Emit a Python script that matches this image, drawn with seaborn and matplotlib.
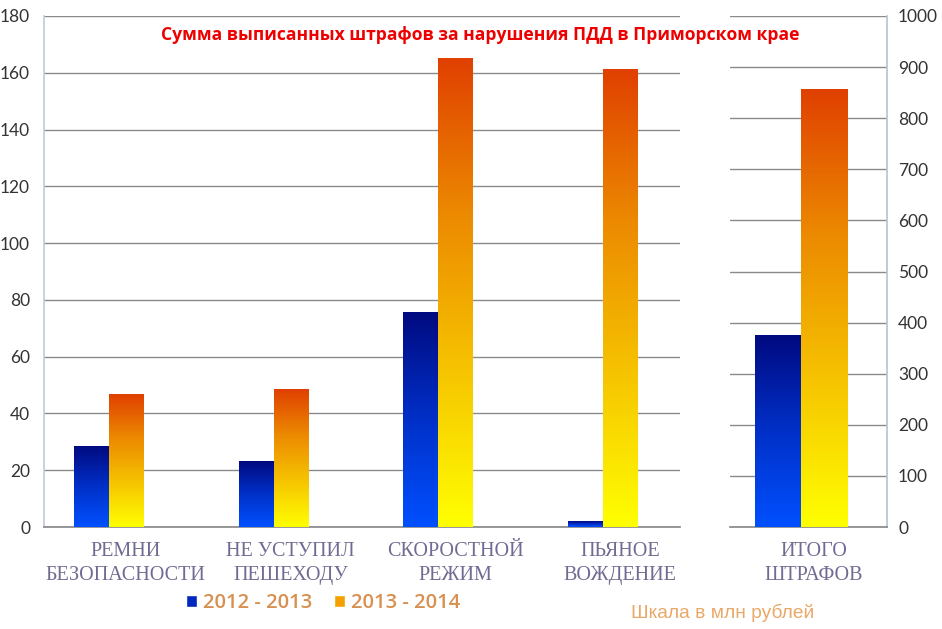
import numpy as np
import pandas as pd
import seaborn as sns
import matplotlib.pyplot as plt
from matplotlib.colors import LinearSegmentedColormap
from matplotlib.patches import Patch

categories = ['РЕМНИ\nБЕЗОПАСНОСТИ', 'НЕ УСТУПИЛ\nПЕШЕХОДУ', 'СКОРОСТНОЙ\nРЕЖИМ', 'ПЬЯНОЕ\nВОЖДЕНИЕ']
periods = ['2012 - 2013', '2013 - 2014']
vals_2012 = [28.2, 23.2, 75.7, 2.1]
vals_2013 = [46.5, 48.6, 165.1, 161.0]
total_label = ['ИТОГО\nШТРАФОВ']
total_2012 = [374]
total_2013 = [857]

left_ticks = list(range(0, 181, 20))
right_ticks = list(range(0, 1001, 100))

title = 'Сумма выписанных штрафов за нарушения ПДД в Приморском крае'
note = 'Шкала в млн рублей'

blue_cmap = LinearSegmentedColormap.from_list('b', ['#0050ff', '#0030c8', '#000a80'])
orange_cmap = LinearSegmentedColormap.from_list('o', ['#ffff00', '#f6c400', '#ec8a00', '#e04000'])
grad = np.linspace(0, 1, 256).reshape(-1, 1)

sns.set_theme(style='white')
plt.rcParams['font.family'] = ['Open Sans', 'DejaVu Sans']

df = pd.DataFrame({
    'cat': categories * 2,
    'period': [periods[0]] * 4 + [periods[1]] * 4,
    'value': vals_2012 + vals_2013,
})
df_tot = pd.DataFrame({
    'cat': total_label * 2,
    'period': periods,
    'value': total_2012 + total_2013,
})

fig = plt.figure(figsize=(9.42, 6.29), dpi=100)
ax = fig.add_axes([44 / 942, 1 - 527 / 629, 636 / 942, 511 / 629])
ax2 = fig.add_axes([730 / 942, 1 - 527 / 629, 157 / 942, 511 / 629])


def paint(a):
    # swap flat bars for vertical gradients
    for cont, cmap in zip(a.containers, [blue_cmap, orange_cmap]):
        for bar in cont:
            x0, w, h = bar.get_x(), bar.get_width(), bar.get_height()
            bar.set_visible(False)
            a.imshow(grad, extent=[x0, x0 + w, 0, h], origin='lower', aspect='auto',
                     cmap=cmap, zorder=3)


sns.barplot(data=df, x='cat', y='value', hue='period', hue_order=periods,
            width=0.424, legend=False, ax=ax, saturation=1)
sns.barplot(data=df_tot, x='cat', y='value', hue='period', hue_order=periods,
            width=0.586, legend=False, ax=ax2, saturation=1)
paint(ax)
paint(ax2)

grid_c = '#8a8a8a'
lab_font = dict(family='Liberation Serif', size=14.5, color='#6f6b92')

ax.set_xlim(-0.394, 3.467)
ax.set_ylim(0, 180)
ax.set_yticks(left_ticks)
ax.set_yticklabels([str(t) for t in left_ticks], family='Lato', size=12.5, color='#333333')
ax.set_xticks(np.arange(4) + 0.103)
ax.set_xticklabels(categories, **lab_font, linespacing=1.35)
ax.yaxis.grid(True, color=grid_c, lw=1)
ax.set_axisbelow(True)
for s in ['top', 'right']:
    ax.spines[s].set_visible(False)
ax.spines['left'].set_color('#c4ccd6')
ax.spines['bottom'].set_color(grid_c)
ax.tick_params(axis='x', length=0, pad=11)
ax.tick_params(axis='y', length=0, pad=10)
ax.set_xlabel('')
ax.set_ylabel('')

ax2.set_xlim(-0.452, 0.548)
ax2.set_ylim(0, 1000)
ax2.yaxis.tick_right()
ax2.set_yticks(right_ticks)
ax2.set_yticklabels([str(t) for t in right_ticks], family='Lato', size=12.5, color='#333333')
ax2.set_xticks([0.083])
ax2.set_xticklabels(total_label, **lab_font, linespacing=1.35)
ax2.yaxis.grid(True, color=grid_c, lw=1)
ax2.set_axisbelow(True)
for s in ['top', 'left']:
    ax2.spines[s].set_visible(False)
ax2.spines['right'].set_color('#b8c4d4')
ax2.spines['bottom'].set_color(grid_c)
ax2.tick_params(axis='x', length=0, pad=11)
ax2.tick_params(axis='y', length=0, pad=8)
ax2.set_xlabel('')
ax2.set_ylabel('')

fig.text(480 / 942, 1 - 35 / 629, title, ha='center', va='center', color='#ee0000',
         fontsize=12.6, fontweight='bold', family='Open Sans')

handles = [Patch(facecolor='#0028c0'), Patch(facecolor='#f4a000')]
fig.legend(handles, periods, loc='center', bbox_to_anchor=(323 / 942, 1 - 603 / 629),
           ncol=2, frameon=False, labelcolor='#d89050',
           handlelength=0.55, handleheight=0.55, handletextpad=0.3, columnspacing=1.1,
           prop=dict(family='Open Sans', size=14.5, weight='semibold'))

fig.text(723 / 942, 1 - 613 / 629, note, ha='center', va='center', color='#eaa868',
         fontsize=13.8, family='Liberation Sans')

fig.savefig('out.png', dpi=100)
